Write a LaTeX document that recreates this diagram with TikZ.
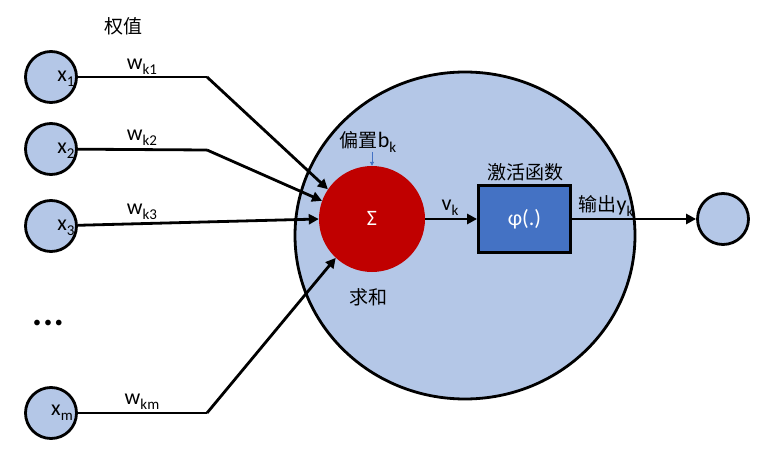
\documentclass[tikz,border=0pt]{standalone}
\usepackage{fontspec}
\setmainfont{Carlito}
\newfontfamily\cjk{Noto Sans CJK SC}
\usetikzlibrary{arrows.meta,shapes.geometric}
\definecolor{lblue}{RGB}{180,199,231}
\definecolor{dred}{RGB}{192,0,0}
\definecolor{mblue}{RGB}{68,114,196}
\newcommand\subx[1]{\raisebox{-0.5ex}{\fontsize{15}{15}\selectfont #1}}
\begin{document}
\begin{tikzpicture}[x=1pt,y=-1pt,
  inp/.style={circle,draw=black,line width=2.8pt,fill=lblue,minimum size=51pt,inner sep=0pt},
  conn/.style={line width=2.8pt,-{Triangle[length=10pt,width=10pt]}},
  wire/.style={line width=2.8pt},
  lab/.style={font=\fontsize{22}{22}\selectfont,inner sep=0pt},
  cjklab/.style={font=\cjk\fontsize{19}{19}\selectfont,inner sep=0pt}]
\useasboundingbox (0,0) rectangle (768,449);
% neuron body
\node[ellipse,draw=black,line width=2.8pt,fill=lblue,minimum width=340pt,minimum height=327pt,inner sep=0pt] (body) at (465,235.5) {};
\node[circle,fill=dred,minimum size=106pt,inner sep=0pt] (sum) at (372,219) {};
\node[lab,text=white] (sigma) at (372,218) {Σ};
\node[draw=black,line width=2.8pt,fill=mblue,minimum width=92pt,minimum height=67pt,inner sep=0pt] (phi) at (524.5,219) {};
\node[lab,text=white] (phit) at (524.5,219) {φ(.)};
% inputs
\node[inp] (x1) at (51,77) {};
\node[inp] (x2) at (51,149) {};
\node[inp] (x3) at (51,226) {};
\node[inp] (xm) at (51,413) {};
\node[lab] (x1t) at (66,79) {x\subx{1}};
\node[lab] (x2t) at (66,151) {x\subx{2}};
\node[lab] (x3t) at (66,228) {x\subx{3}};
\node[lab] (xmt) at (62,413) {x\subx{m}};
\node[inp] (y) at (723,219) {};
% bends
\coordinate (b1) at (207,77);
\coordinate (b2) at (207,150);
\coordinate (bm) at (207,413);
\draw[wire] (x1) -- (b1);
\draw[conn] (b1) -- (sum.146);
\draw[wire] (x2) -- (b2);
\draw[conn] (b2) -- (sum.160);
\draw[conn] (x3) -- (sum.180);
\draw[wire] (xm) -- (bm);
\draw[conn] (bm) -- (sum.227);
\draw[conn] (sum) -- (phi);
\draw[conn] (phi) -- (y);
% bias arrow
\coordinate (bs) at (372,152);
\draw[mblue,line width=0.9pt,-{Triangle[length=4pt,width=4pt]}] (bs) -- (sum.north);
% labels
\node[cjklab] (qz) at (123,26) {权值};
\node[lab] (w1) at (142,67) {w\subx{k1}};
\node[lab] (w2) at (142,138) {w\subx{k2}};
\node[lab] (w3) at (142,212) {w\subx{k3}};
\node[lab] (wm) at (142,402) {w\subx{km}};
\node[inner sep=0pt,font=\fontsize{16}{16}\selectfont] (dots) at (48,324) {•\kern3pt•\kern3pt•};
\node[inner sep=0pt] (bias) at (368,142) {{\cjk\fontsize{19}{19}\selectfont 偏置}{\fontsize{22}{22}\selectfont b\subx{k}}};
\node[cjklab] (qh) at (368,297) {求和};
\node[lab] (vk) at (450,208) {v\subx{k}};
\node[cjklab] (jh) at (525,172) {激活函数};
\node[inner sep=0pt] (out) at (606,206) {{\cjk\fontsize{19}{19}\selectfont 输出}{\fontsize{22}{22}\selectfont y\subx{k}}};
\end{tikzpicture}
\end{document}
